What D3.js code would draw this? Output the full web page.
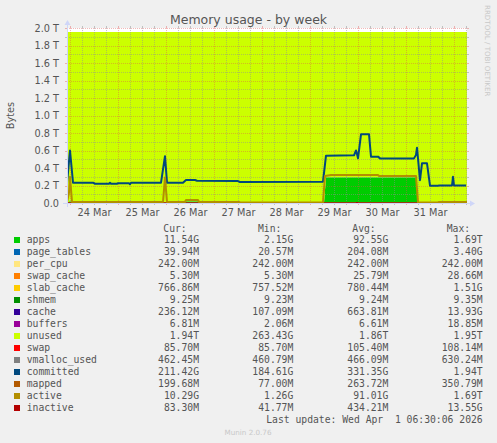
<!DOCTYPE html>
<html>
<head>
<meta charset="utf-8">
<script src="https://cdn.jsdelivr.net/npm/d3@7"></script>
<style>
body { margin: 0; background: #f0f0f0; }
svg { display: block; }
text { font-family: "DejaVu Sans"; }
.mono { font-family: "DejaVu Sans Mono"; font-size: 9.72px; fill: #555; white-space: pre; }
</style>
</head>
<body>
<div id="chart"></div>
<script>
// time is in hours since the left edge of the graph (Mar 23 22:30)
const xTickHours = [13.5, 37.5, 61.5, 85.5, 109.5, 133.5, 157.5, 181.5]
const xTickLabels = ["24 Mar", "25 Mar", "26 Mar", "27 Mar", "28 Mar", "29 Mar", "30 Mar", "31 Mar"]
const yTicks = [0, 0.2, 0.4, 0.6, 0.8, 1.0, 1.2, 1.4, 1.6, 1.8, 2.0]
const yTickLabels = ["0.0", "0.2 T", "0.4 T", "0.6 T", "0.8 T", "1.0 T", "1.2 T", "1.4 T", "1.6 T", "1.8 T", "2.0 T"]

// stacked areas (TB)
const stackHours = [0, 1, 1.5, 2, 59, 59.5, 65.5, 66, 128.5, 129.5, 174.5, 175.5, 200]
const apps = [0.005, 0.005, 0.05, 0.005, 0.005, 0.02, 0.02, 0.005, 0.005, 0.295, 0.295, 0.005, 0.005]
const unused = [1.949, 1.949, 1.904, 1.949, 1.949, 1.934, 1.934, 1.949, 1.949, 1.659, 1.659, 1.949, 1.949]

// lines (TB)
const committedHours = [0, 1.5, 3, 13, 14, 21, 21.5, 22, 25, 25.5, 31, 31.5, 32, 47, 49, 50, 58, 59.5, 64, 65,
    85.5, 86.5, 128, 129.5, 143.5, 144.5, 145, 145.5, 147, 151, 152, 155.5, 156.5, 173.5, 174.5, 175, 176.5,
    177.5, 180, 181.5, 185.5, 186, 192.5, 193, 193.5, 199.5]
const committed = [0.225, 0.60, 0.232, 0.232, 0.22, 0.22, 0.232, 0.22, 0.22, 0.226, 0.226, 0.215, 0.232, 0.232, 0.535, 0.232, 0.232, 0.263, 0.263, 0.255,
    0.251, 0.24, 0.244, 0.541, 0.545, 0.6, 0.56, 0.51, 0.785, 0.785, 0.53, 0.53, 0.51, 0.51, 0.55, 0.632, 0.26,
    0.453, 0.453, 0.198, 0.198, 0.2, 0.2, 0.3, 0.2, 0.2]

const activeHours = [0, 1, 1.5, 2.5, 48, 49, 50, 59, 59.5, 65.5, 66, 86, 86.5, 128, 129, 132, 155.5, 156, 174.5, 175.5, 185.5, 186, 200]
const active = [0.012, 0.12, 0.30, 0.012, 0.012, 0.29, 0.012, 0.012, 0.035, 0.035, 0.012, 0.012, 0.006, 0.006, 0.309, 0.32, 0.32, 0.309, 0.309, 0.006, 0.006, 0.012, 0.012]

const inactiveHours = [0, 144.5, 145, 145.5, 200]
const inactive = [0.0001, 0.0001, 0.012, 0.0001, 0.0001]
const mappedHours = [0, 200]
const mapped = [0.0002, 0.0002]
const vmallocHours = [0, 200]
const vmalloc = [0.00046, 0.00046]

// legend
const legendNames = ["apps", "page_tables", "per_cpu", "swap_cache", "slab_cache", "shmem", "cache", "buffers",
    "unused", "swap", "vmalloc_used", "committed", "mapped", "active", "inactive"]
const legendColors = ["#00CC00", "#0066B3", "#FFE680", "#FF8000", "#FFCC00", "#008F00", "#330099", "#990099",
    "#CCFF00", "#FF0000", "#808080", "#00487D", "#B35A00", "#B38F00", "#B30000"]
const curVals = ["11.54G", "39.94M", "242.00M", "5.30M", "766.86M", "9.25M", "236.12M", "6.81M", "1.94T", "85.70M", "462.45M", "211.42G", "199.68M", "10.29G", "83.30M"]
const minVals = ["2.15G", "20.57M", "242.00M", "5.30M", "757.52M", "9.23M", "107.09M", "2.06M", "263.43G", "85.70M", "460.79M", "184.61G", "77.00M", "1.26G", "41.77M"]
const avgVals = ["92.55G", "204.08M", "242.00M", "25.79M", "780.44M", "9.24M", "663.81M", "6.61M", "1.86T", "105.40M", "466.09M", "331.35G", "263.72M", "91.01G", "434.21M"]
const maxVals = ["1.69T", "3.40G", "242.00M", "28.66M", "1.51G", "9.35M", "13.93G", "18.85M", "1.95T", "108.14M", "630.24M", "1.94T", "350.79M", "1.69T", "13.55G"]

const width = 497, height = 443
const X0 = 67, X1 = 467, Y0 = 203, Y1 = 28

const gridColor = "rgba(143,143,143,0.5)"
const mgridColor = "rgba(222,79,79,0.4)"
const axisColor = "#CFD6F8"

var svg = d3.select("#chart")
    .append("svg")
    .attr("width", width)
    .attr("height", height)
    .style("background", "#f0f0f0")

svg.append("clipPath").attr("id", "canvas-clip")
    .append("rect")
    .attr("x", X0).attr("y", Y1)
    .attr("width", X1 - X0).attr("height", Y0 - Y1)

var xScale = d3.scaleLinear().domain([0, 200]).range([X0, X1])
var yScale = d3.scaleLinear().domain([0, 2]).range([Y0, Y1])

// canvas
svg.append("rect")
    .attr("x", X0).attr("y", Y1)
    .attr("width", X1 - X0).attr("height", Y0 - Y1)
    .attr("fill", "#ffffff")

// stacked areas
var stackRows = stackHours.map((h, i) => ({ h: h, apps: apps[i], unused: unused[i] }))
var stack = d3.stack().keys(["apps", "unused"])
var stackColors = { apps: "#00CC00", unused: "#CCFF00" }
var area = d3.area()
    .x(d => xScale(d.data.h))
    .y0(d => yScale(d[0]))
    .y1(d => yScale(d[1]))

svg.selectAll(".layer")
    .data(stack(stackRows))
    .enter()
    .append("path")
    .attr("class", "layer")
    .attr("d", area)
    .attr("fill", d => stackColors[d.key])

// grid
var grid = svg.append("g")
var minorHours = d3.range(1.5, 200, 6).filter(h => (h - 1.5) % 24 != 0)
var majorHours = d3.range(1.5, 200, 24)
var minorY = [0.1, 0.3, 0.5, 0.7, 0.9, 1.1, 1.3, 1.5, 1.7, 1.9]

function vGrid(hours, color) {
    hours.forEach(h => {
        var x = Math.round(xScale(h)) + 0.5
        grid.append("line").attr("x1", x).attr("x2", x).attr("y1", Y0).attr("y2", Y1)
            .attr("stroke", color).attr("stroke-dasharray", "1,1")
        grid.append("line").attr("x1", x).attr("x2", x).attr("y1", Y0).attr("y2", Y0 + 2).attr("stroke", color)
        grid.append("line").attr("x1", x).attr("x2", x).attr("y1", Y1 - 2).attr("y2", Y1).attr("stroke", color)
    })
}
function hGrid(values, color) {
    values.forEach(v => {
        var y = Math.round(yScale(v)) + 0.5
        grid.append("line").attr("x1", X0).attr("x2", X1).attr("y1", y).attr("y2", y)
            .attr("stroke", color).attr("stroke-dasharray", "1,1")
        grid.append("line").attr("x1", X0 - 2).attr("x2", X0).attr("y1", y).attr("y2", y).attr("stroke", color)
        grid.append("line").attr("x1", X1).attr("x2", X1 + 2).attr("y1", y).attr("y2", y).attr("stroke", color)
    })
}
vGrid(minorHours, gridColor)
hGrid(minorY, gridColor)
vGrid(majorHours, mgridColor)
hGrid(yTicks.slice(1), mgridColor)

// lines
var lines = svg.append("g").attr("clip-path", "url(#canvas-clip)")
function drawLine(hours, values, color, w) {
    var line = d3.line()
        .x((d, i) => xScale(hours[i]))
        .y(d => yScale(d))
    lines.append("path")
        .datum(values)
        .attr("d", line)
        .attr("fill", "none")
        .attr("stroke", color)
        .attr("stroke-width", w)
        .attr("stroke-linejoin", "round")
}
drawLine(vmallocHours, vmalloc, "#808080", 1)
drawLine(committedHours, committed, "#00487D", 2)
drawLine(mappedHours, mapped, "#B35A00", 1)
drawLine(inactiveHours, inactive, "#B30000", 1)
drawLine(activeHours, active, "#B38F00", 2)

// axes (rrdtool style, with arrows)
svg.append("line").attr("x1", X0 - 4).attr("x2", X1 + 4).attr("y1", Y0 + 0.5).attr("y2", Y0 + 0.5).attr("stroke", axisColor)
svg.append("line").attr("x1", X0 + 0.5).attr("x2", X0 + 0.5).attr("y1", Y0 + 4).attr("y2", Y1 - 4).attr("stroke", axisColor)
svg.append("path").attr("d", `M${X1 + 8},${Y0 + 0.5}L${X1 + 3},${Y0 - 2.5}L${X1 + 3},${Y0 + 3.5}Z`).attr("fill", axisColor)
svg.append("path").attr("d", `M${X0 + 0.5},${Y1 - 8}L${X0 - 2.5},${Y1 - 3}L${X0 + 3.5},${Y1 - 3}Z`).attr("fill", axisColor)

var axisY = d3.axisLeft(yScale)
    .tickValues(yTicks)
    .tickFormat((d, i) => yTickLabels[i])
    .tickSize(0)
    .tickPadding(8)
var gy = svg.append("g").attr("transform", "translate(" + X0 + ",0)").call(axisY)
gy.select(".domain").remove()
gy.selectAll("text").attr("font-family", "DejaVu Sans").attr("font-size", "9.72px").attr("fill", "#555")

var axisX = d3.axisBottom(xScale)
    .tickValues(xTickHours)
    .tickFormat((d, i) => xTickLabels[i])
    .tickSize(0)
    .tickPadding(6)
var gx = svg.append("g").attr("transform", "translate(0," + Y0 + ")").call(axisX)
gx.select(".domain").remove()
gx.selectAll("text").attr("font-family", "DejaVu Sans").attr("font-size", "9.72px").attr("fill", "#555")

// titles
svg.append("text")
    .attr("x", 248.5).attr("y", 24)
    .attr("text-anchor", "middle")
    .attr("font-size", "12.5px")
    .attr("fill", "#555")
    .text("Memory usage - by week")

svg.append("text")
    .attr("transform", "translate(14," + ((Y0 + Y1) / 2) + ") rotate(-90)")
    .attr("text-anchor", "middle")
    .attr("font-size", "9.72px")
    .attr("fill", "#555")
    .text("Bytes")

svg.append("text")
    .attr("transform", "translate(485,5) rotate(90)")
    .attr("text-anchor", "start")
    .attr("font-size", "7.1px")
    .attr("fill", "#c8c8c8")
    .text("RRDTOOL / TOBI OETIKER")

// legend
var headerY = 231.5
var colStart = [163.3, 258, 352.3, 446.7]
var colEnd = [199, 293.3, 388.3, 482.7]
var headers = ["Cur:", "Min:", "Avg:", "Max:"]
headers.forEach((t, i) => {
    svg.append("text").attr("class", "mono").attr("x", colStart[i]).attr("y", headerY).text(t)
})

var cols = [curVals, minVals, avgVals, maxVals]
var rows = svg.selectAll(".row")
    .data(legendNames)
    .enter()
    .append("g")
    .attr("class", "row")
    .attr("transform", (d, i) => "translate(0," + (243 + i * 12) + ")")

rows.append("rect")
    .attr("x", 14).attr("y", -6)
    .attr("width", 6).attr("height", 6)
    .attr("fill", (d, i) => legendColors[i])

rows.append("text")
    .attr("class", "mono")
    .attr("x", 26.7)
    .text(d => d)

cols.forEach((vals, c) => {
    rows.append("text")
        .attr("class", "mono")
        .attr("x", colEnd[c])
        .attr("text-anchor", "end")
        .text((d, i) => vals[i])
})

svg.append("text")
    .attr("class", "mono")
    .attr("x", 482.7).attr("y", 423)
    .attr("text-anchor", "end")
    .text("Last update: Wed Apr  1 06:30:06 2026")

svg.append("text")
    .attr("x", 248).attr("y", 435)
    .attr("text-anchor", "middle")
    .attr("font-size", "7.2px")
    .attr("fill", "#c8c8c8")
    .text("Munin 2.0.76")
</script>
</body>
</html>
